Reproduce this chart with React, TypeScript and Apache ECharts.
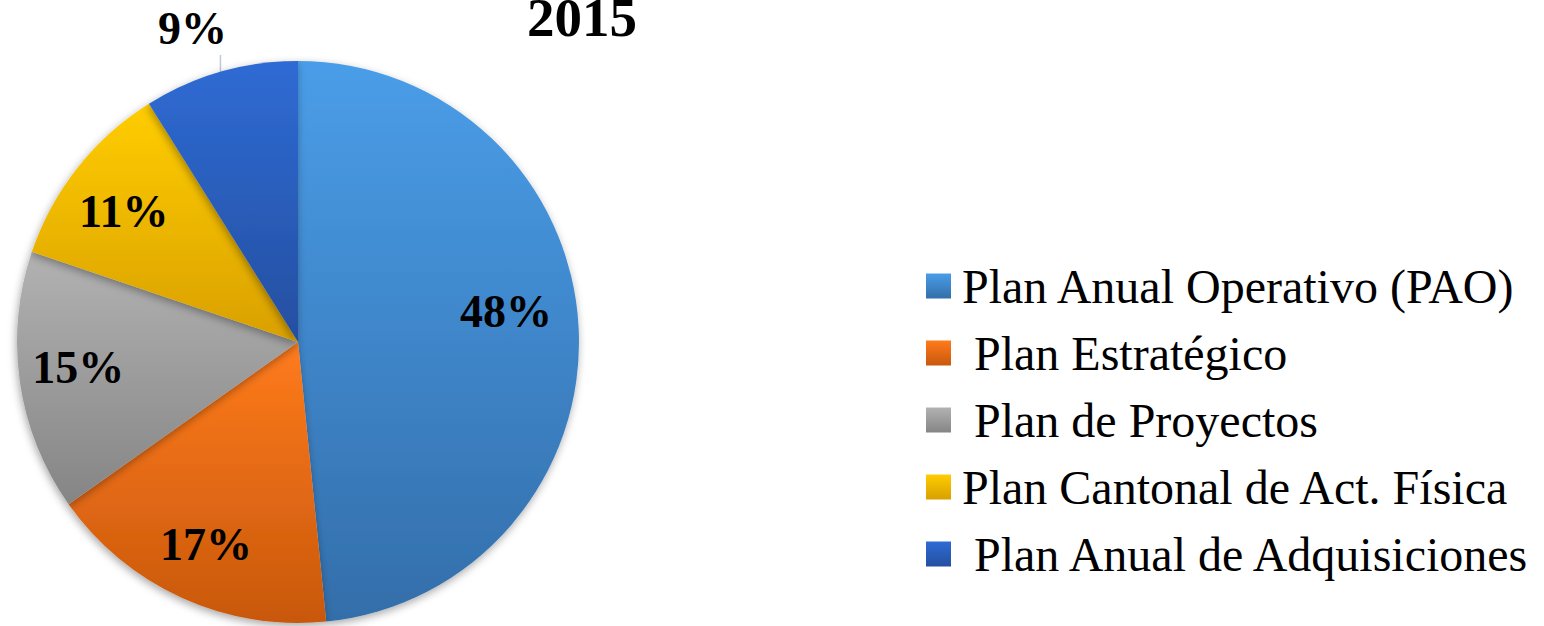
import React, { useEffect, useRef } from "react";
import * as echarts from "echarts";

const categories = [
  "Plan Anual Operativo (PAO)",
  " Plan Estratégico",
  " Plan de Proyectos",
  "Plan Cantonal de Act. Física",
  " Plan Anual de Adquisiciones",
];
const values = [48.4, 16.8, 15.0, 10.9, 8.9];
const percentLabels = ["48%", "17%", "15%", "11%", "9%"];
const gradientTops = ["#4A9DE8", "#FF7B1C", "#B2B2B2", "#FFCD00", "#2F6BD4"];
const gradientBottoms = ["#336EAA", "#C8580C", "#858585", "#D9A000", "#244FA0"];
const titleText = "2015";

const FONT = '"Liberation Serif", "Times New Roman", serif';

function grad(i: number) {
  return new echarts.graphic.LinearGradient(0, 0, 0, 1, [
    { offset: 0, color: gradientTops[i] },
    { offset: 1, color: gradientBottoms[i] },
  ]);
}

export default function App() {
  const ref = useRef<HTMLDivElement>(null);
  useEffect(() => {
    if (!ref.current) return;
    const chart = echarts.init(ref.current, null, { renderer: "svg" });
    const R = 281;
    const center = [298, 342];
    const labelFont = { fontFamily: FONT, fontWeight: "bold" as const, fontSize: 46, color: "#000" };
    chart.setOption({
      animation: false,
      backgroundColor: "#fff",
      title: {
        text: titleText,
        left: 522,
        top: -15,
        padding: 5,
        textStyle: { fontFamily: FONT, fontWeight: "bold", fontSize: 55, color: "#000" },
      },
      legend: {
        orient: "vertical",
        left: 926,
        top: 262,
        padding: 0,
        icon: "rect",
        itemWidth: 25,
        itemHeight: 25,
        itemGap: 19,
        data: categories,
        formatter: (name: string) => name.replace(/^ /, "\u00a0"),
        textStyle: { fontFamily: FONT, fontSize: 48, lineHeight: 48, color: "#000", padding: [0, 0, 0, 6] },
      },
      series: [
        {
          type: "pie",
          center,
          radius: R,
          startAngle: 90,
          clockwise: true,
          avoidLabelOverlap: false,
          itemStyle: {
            borderWidth: 0,
            shadowBlur: 8,
            shadowColor: "rgba(0,0,0,0.35)",
            shadowOffsetX: -1,
            shadowOffsetY: 3,
          },
          label: { show: false },
          labelLine: { show: false },
          labelLayout: (params: any) => {
            if (params.dataIndex !== 4) return;
            const p = params.labelLinePoints;
            if (!p) return;
            const x0 = p[0][0];
            const y0 = p[0][1];
            return {
              x: x0 - 28,
              y: y0 - 43,
              align: "center",
              verticalAlign: "middle",
              labelLinePoints: [
                [x0, y0],
                [x0, y0 - 17],
                [x0, y0 - 17],
              ],
            };
          },
          data: categories.map((name, i) => ({
            name,
            value: values[i],
            itemStyle: { color: grad(i) },
            label:
              i === 4
                ? { show: true, position: "outside", formatter: percentLabels[i], ...labelFont }
                : { show: false },
            labelLine:
              i === 4
                ? { show: true, length: 17, length2: 0, lineStyle: { color: "#BFC8D6", width: 1.5 } }
                : { show: false },
          })),
        },
        {
          type: "pie",
          center,
          radius: R * 1.56,
          startAngle: 90,
          clockwise: true,
          silent: true,
          z: 5,
          avoidLabelOverlap: false,
          itemStyle: { color: "rgba(0,0,0,0)", borderWidth: 0 },
          labelLine: { show: false },
          labelLayout: (params: any) => {
            if (params.dataIndex === 0) return { dx: -14, dy: -19 };
            if (params.dataIndex === 3) return { dy: 7 };
            if (params.dataIndex === 2) return { dy: -6 };
            return;
          },
          data: categories.map((name, i) => ({
            name,
            value: values[i],
            label:
              i === 4
                ? { show: false }
                : { show: true, position: "inside", formatter: percentLabels[i], ...labelFont },
          })),
        },
      ],
    });
    return () => chart.dispose();
  }, []);
  return (
    <div
      ref={ref}
      style={{ position: "fixed", left: 0, top: 0, width: 1544, height: 626 }}
    />
  );
}
